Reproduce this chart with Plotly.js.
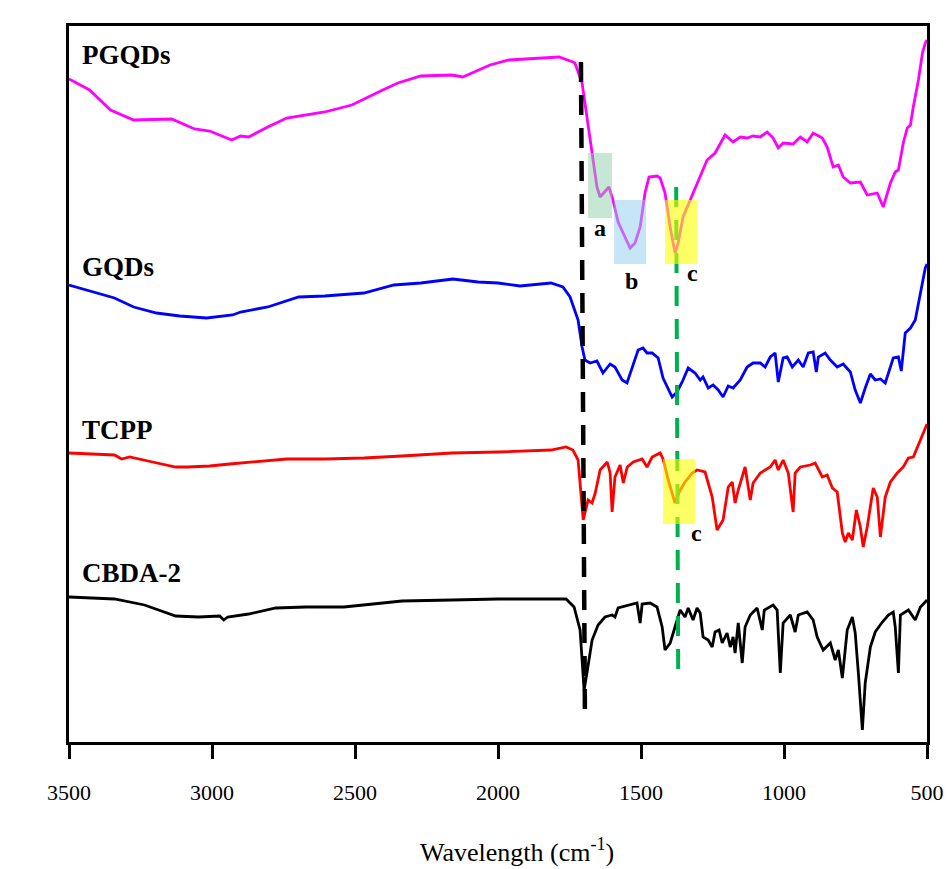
<!DOCTYPE html>
<html>
<head>
<meta charset="utf-8">
<script src="https://cdn.plot.ly/plotly-3.0.1.min.js"></script>
<style>html,body{margin:0;padding:0;background:#fff;}#chart{width:949px;height:869px;}</style>
</head>
<body>
<div id="chart"></div>
<script>
// Wavenumber (cm-1) and offset intensity (a.u.)
const pgqdsW = [3500,3428,3355,3274,3141,3061,3008,2973,2931,2900,2872,2805,2739,2606,2511,2403,2350,2270,2161,2123,2028,1962,1867,1787,1738,1731,1706,1689,1671,1654,1643,1626,1612,1598,1580,1556,1538,1521,1503,1486,1472,1444,1433,1416,1398,1381,1370,1353,1328,1304,1269,1241,1206,1178,1153,1129,1108,1083,1059,1038,1020,1003,968,943,919,898,866,849,828,810,793,768,733,709,674,653,628,611,600,583,569,558,548,530,516,506,500];
const pgqdsV = [663,652,632,622,623,613,611,607,602,606,605,615,624,630,637,652,659,666,667,665,677,682,684,685,680,679,659,625,589,555,545,550,555,542,520,505,494,499,515,549,565,566,564,549,515,489,499,525,542,559,582,589,607,600,605,604,606,605,610,604,594,599,598,605,600,609,604,595,575,577,565,559,560,547,549,535,559,570,572,599,614,617,635,662,689,699,702];

const gqdsW = [3500,3341,3274,3194,3113,3019,2928,2900,2805,2697,2606,2469,2364,2270,2158,2070,2000,1923,1815,1773,1748,1720,1706,1696,1678,1654,1633,1608,1591,1566,1549,1531,1510,1493,1479,1461,1440,1423,1391,1374,1356,1335,1311,1293,1283,1265,1248,1230,1213,1195,1178,1153,1129,1108,1083,1066,1048,1031,1020,1003,989,971,950,933,915,898,887,880,856,838,814,793,768,751,733,716,698,681,663,646,618,600,590,576,558,541,523,506,500];
const gqdsV = [457,444,435,429,426,424,427,430,435,445,446,449,457,459,463,460,459,456,459,455,445,422,395,382,379,381,369,378,375,362,359,375,392,394,389,389,384,364,345,350,360,374,369,362,365,354,357,352,345,356,354,362,375,379,379,375,385,389,360,384,385,375,382,375,389,390,370,385,389,382,375,378,370,352,339,354,368,362,363,359,384,385,371,409,414,422,447,474,478];

const tcppW = [3500,3341,3316,3288,3208,3127,3085,3008,2938,2805,2739,2606,2469,2336,2161,2000,1815,1762,1738,1720,1702,1685,1671,1660,1643,1618,1608,1601,1591,1573,1562,1548,1527,1496,1479,1461,1433,1423,1405,1381,1363,1346,1321,1304,1276,1251,1234,1213,1195,1181,1171,1160,1136,1118,1108,1083,1048,1031,1020,1003,985,968,961,943,908,891,866,849,831,814,796,786,775,761,747,733,723,709,688,674,663,646,628,604,583,565,548,523,506,500];
const tcppV = [289,287,283,285,280,275,275,276,278,281,283,283,284,286,289,290,292,295,292,282,222,242,239,249,272,280,269,230,265,277,259,275,280,283,275,285,289,283,262,239,252,260,269,272,270,245,212,222,255,260,239,252,275,242,259,269,275,282,272,282,269,230,269,275,277,279,265,267,254,250,209,200,209,202,232,215,195,215,254,245,205,245,260,269,275,284,285,302,314,318];

const cbdaW = [3500,3341,3236,3155,3127,3047,2973,2959,2945,2872,2777,2672,2539,2403,2336,2161,2000,1762,1734,1713,1699,1689,1671,1650,1626,1601,1591,1580,1549,1514,1503,1496,1468,1444,1426,1416,1398,1381,1363,1346,1335,1318,1304,1293,1283,1265,1251,1241,1227,1216,1199,1188,1178,1171,1160,1146,1136,1118,1094,1076,1069,1038,1024,1013,1003,978,961,950,919,898,884,863,838,821,810,796,779,761,751,740,726,716,698,681,656,635,618,611,600,593,565,541,523,506,500];
const cbdaV = [145,143,137,129,126,125,126,122,125,128,134,135,135,139,141,142,143,143,135,112,52,69,102,117,125,127,125,134,136,139,119,138,139,135,115,92,99,115,132,125,134,122,134,129,105,102,95,110,112,99,109,95,105,89,119,79,115,127,134,112,132,137,132,69,119,127,110,127,130,122,105,92,99,82,92,64,112,125,109,69,12,59,95,110,120,127,130,115,69,127,132,122,135,140,142];

const seriesNames = ['PGQDs','GQDs','TCPP','CBDA-2'];
const seriesColors = ['#FF00FF','#0000FF','#FF0000','#000000'];
const tickVals = [3500,3000,2500,2000,1500,1000,500];
const tickText = ['3500','3000','2500','2000','1500','1000','500'];
const xTitle = 'Wavelength (cm<sup>-1</sup>)';

const serif = "'Liberation Serif', 'Times New Roman', serif";
const xs = [pgqdsW, gqdsW, tcppW, cbdaW];
const ys = [pgqdsV, gqdsV, tcppV, cbdaV];
const traces = seriesNames.map((n,i)=>({
  x: xs[i], y: ys[i], type:'scatter', mode:'lines', name:n,
  line:{color:seriesColors[i], width:2.8}, showlegend:false, hoverinfo:'skip'
}));

// label positions (data units)
const labelPos = [[3463,687],[3463,475],[3463,312],[3463,169]];
const annotations = seriesNames.map((n,i)=>({
  x: labelPos[i][0], y: labelPos[i][1], xref:'x', yref:'y', text:'<b>'+n+'</b>',
  showarrow:false, xanchor:'left', yanchor:'middle',
  font:{family:serif, size:27, color:'#000'}
}));
const letters = [['a',1643,514],['b',1534,461],['c',1321,469],['c',1307,209]];
letters.forEach(l=>annotations.push({
  x:l[1], y:l[2], xref:'x', yref:'y', text:'<b>'+l[0]+'</b>', showarrow:false,
  xanchor:'center', yanchor:'middle', font:{family:serif, size:24, color:'#000'}
}));
// x-axis title (placed slightly right of centre, as in the reference)
annotations.push({
  x:0.522, y:-0.152, xref:'paper', yref:'paper', text:xTitle, showarrow:false,
  xanchor:'center', yanchor:'middle', borderpad:0,
  font:{family:serif, size:26, color:'#000'}
});

const shapes = [
  {type:'line', xref:'x', yref:'y', x0:1710, x1:1696, y0:680, y1:25, layer:'above',
   line:{color:'#000', width:4.5, dash:'20px,13px'}},
  {type:'line', xref:'x', yref:'y', x0:1377, x1:1370, y0:555, y1:72, layer:'above',
   line:{color:'#00B050', width:4, dash:'20px,13px'}},
  {type:'rect', xref:'x', yref:'y', x0:1685, x1:1601, y0:524, y1:589, layer:'above',
   fillcolor:'rgba(140,208,170,0.5)', line:{width:0}},
  {type:'rect', xref:'x', yref:'y', x0:1594, x1:1482, y0:478, y1:542, layer:'above',
   fillcolor:'rgba(141,205,239,0.5)', line:{width:0}},
  {type:'rect', xref:'x', yref:'y', x0:1416, x1:1304, y0:478, y1:542, layer:'above',
   fillcolor:'rgba(255,255,0,0.6)', line:{width:0}},
  {type:'rect', xref:'x', yref:'y', x0:1423, x1:1311, y0:218, y1:283, layer:'above',
   fillcolor:'rgba(255,255,0,0.6)', line:{width:0}}
];

const layout = {
  width:949, height:869,
  margin:{l:69, r:22, t:26, b:127},
  paper_bgcolor:'#fff', plot_bgcolor:'#fff',
  font:{family:serif, color:'#000'},
  xaxis:{
    range:[3500,500], autorange:false,
    tickvals:tickVals, ticktext:tickText,
    ticks:'outside', ticklen:14, tickwidth:3, tickcolor:'#000',
    ticklabelstandoff:15,
    showline:true, linecolor:'#000', linewidth:3, mirror:true,
    showgrid:false, zeroline:false,
    tickfont:{family:serif, size:22, color:'#000'}
  },
  yaxis:{
    range:[0,716], autorange:false,
    showticklabels:false, ticks:'',
    showline:true, linecolor:'#000', linewidth:3, mirror:true,
    showgrid:false, zeroline:false
  },
  annotations: annotations,
  shapes: shapes,
  showlegend:false
};
Plotly.newPlot('chart', traces, layout, {displayModeBar:false, staticPlot:true});
</script>
</body>
</html>
